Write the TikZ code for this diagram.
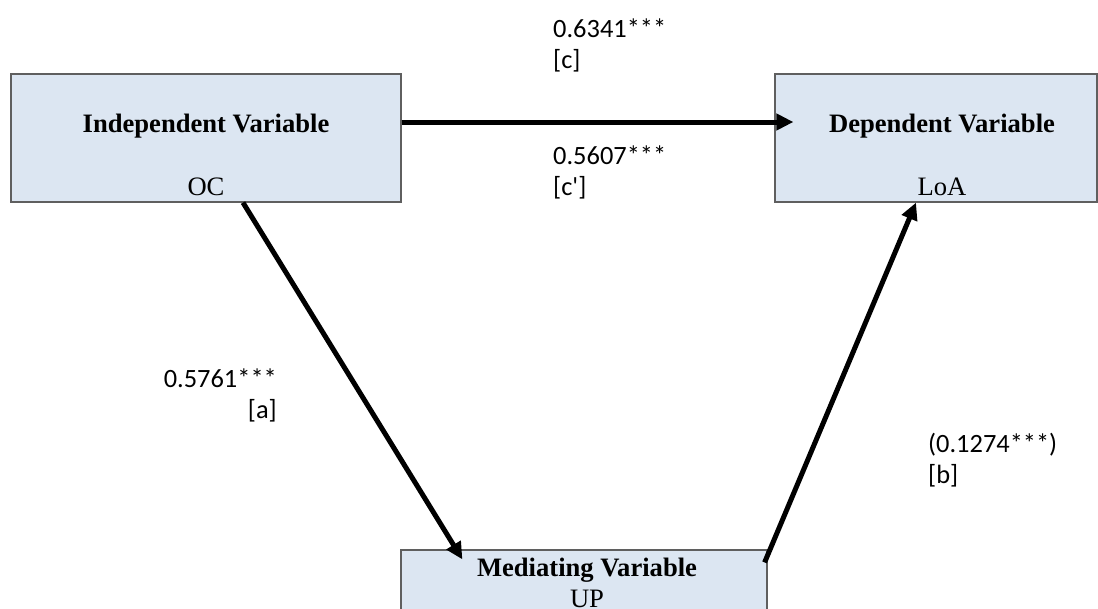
\documentclass[tikz,border=0pt]{standalone}
\usepackage{fontspec}
\setmainfont{Liberation Serif}
\newfontfamily\labelfont{Carlito}
\usetikzlibrary{positioning, arrows.meta}
\definecolor{boxfill}{RGB}{220,230,242}
\definecolor{boxline}{RGB}{95,95,95}

\begin{document}
\begin{tikzpicture}
% Style
[
    x=1pt, y=-1pt,
    box/.style={
        draw=boxline, fill=boxfill, line width=1.2pt, shape=rectangle, inner sep=0pt,
        minimum width=#1, minimum height=128pt
    },
    title/.style={font=\fontsize{26.6}{31}\selectfont\bfseries, anchor=base, inner sep=0pt},
    sub/.style={font=\fontsize{26.6}{31}\selectfont, anchor=base, inner sep=0pt},
    coef/.style={font=\fontsize{26.4}{31}\labelfont, align=left, anchor=base west, inner sep=0pt},
    link/.style={line width=5pt, -{Triangle[length=17pt, width=16pt]}}
]

%=================================== Start ===================================
\useasboundingbox (0,0) rectangle (1098,608);
\clip (0,0) rectangle (1098,608);

% boxes
\node[box=390pt] (iv) at (206,138) {};
\node[box=322pt] (dv) at (936,138) {};
\node[box=366pt] (mv) at (584,614) {};

\node[title] (iv-title) at ([yshift=-59pt]iv.north) {Independent Variable};
\node[sub]   (iv-sub)   at ([yshift=7pt]iv.south)   {OC};
\node[title] (dv-title) at ([xshift=6pt, yshift=-59pt]dv.north) {Dependent Variable};
\node[sub]   (dv-sub)   at ([xshift=6pt, yshift=7pt]dv.south)   {LoA};
\node[title] (mv-title) at ([xshift=3pt, yshift=-27pt]mv.north) {Mediating Variable};
\node[sub]   (mv-sub)   at ([xshift=3pt, yshift=-58pt]mv.north) {UP};

% paths
\draw[link] ([yshift=16pt]iv.east) -- ([xshift=19pt, yshift=16pt]dv.west);
\draw[link] ([xshift=37pt]iv.south) -- ([xshift=62pt, yshift=-10pt]mv.north west);
\draw[link] ([xshift=-3pt, yshift=-13pt]mv.north east) -- ([xshift=-20pt]dv.south);

% coefficients (base = last line)
\node[coef] (coef-c)  at (553,68)  {0.6341***\\{[c]}};
\node[coef] (coef-cp) at (553,195) {0.5607***\\{[c']}};
\node[coef] (coef-b)  at (928,483) {(0.1274***)\\{[b]}};
\node[coef, align=right, anchor=base east] (coef-a) at (277,418) {0.5761***\\{[a]}};
%==================================== END ====================================

\end{tikzpicture}
\end{document}
